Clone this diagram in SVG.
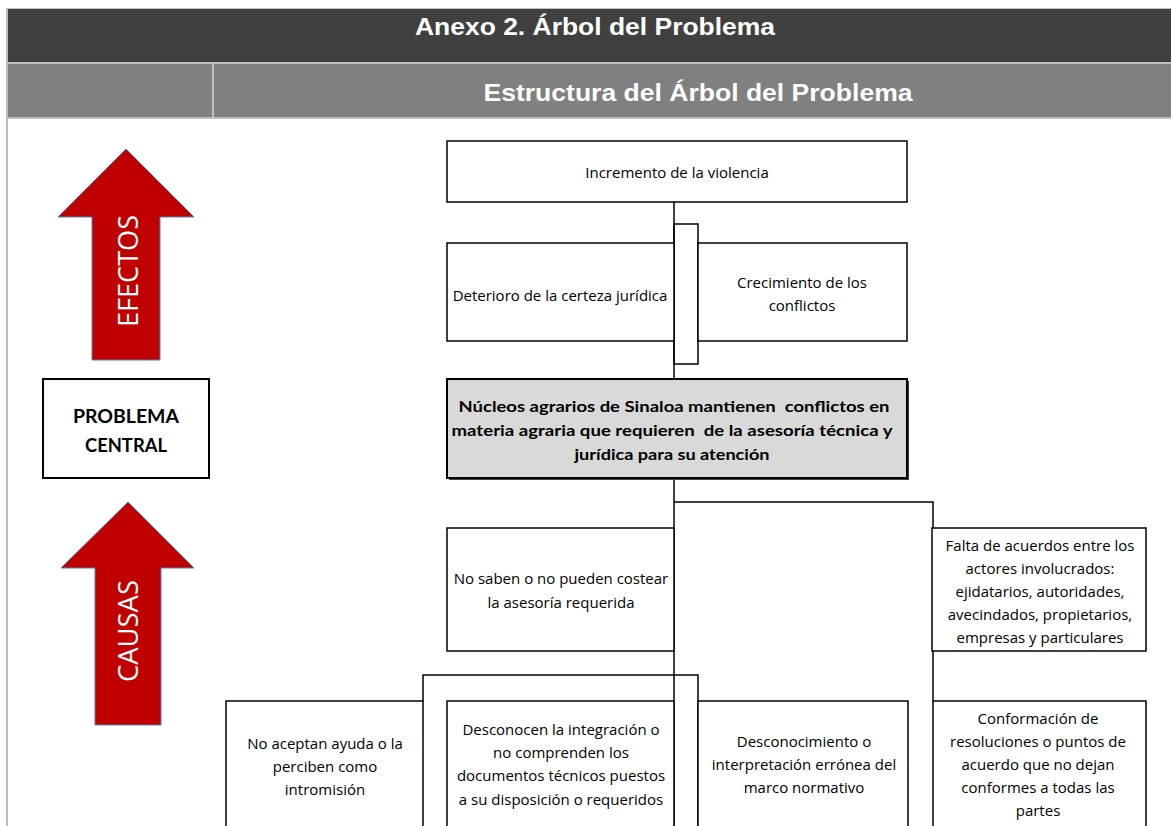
<svg xmlns="http://www.w3.org/2000/svg" width="1171" height="826" viewBox="0 0 1171 826">
<defs>
<style>
.box{fill:#fff;stroke:#000;stroke-width:1.5}
.t{font-family:"Open Sans",Lato,sans-serif;font-size:15px;fill:#000;text-anchor:middle}
.tb{font-family:Lato,"Open Sans",sans-serif;font-weight:bold;font-size:15.5px;fill:#000;text-anchor:middle;white-space:pre}
.hd{font-family:"Liberation Sans",Arial,sans-serif;font-weight:bold;font-size:24px;fill:#fff;text-anchor:middle}
.arrow{fill:#c00000;stroke:#4f81bd;stroke-width:1}
.at{font-family:"Open Sans",Lato,sans-serif;font-size:28px;fill:#fff;text-anchor:middle}
.conn{fill:none;stroke:#000;stroke-width:1.5}
</style>
</defs>
<rect width="1171" height="826" fill="#fff"/>
<g id="header">
<rect x="6" y="8" width="1166" height="111" fill="#bfbfbf"/>
<rect x="8" y="9" width="1163" height="53" fill="#404040"/>
<rect x="8" y="64" width="1163" height="53" fill="#808080"/>
<rect x="212" y="64" width="2" height="53" fill="#bfbfbf"/>
<rect x="6" y="117" width="2" height="709" fill="#bfbfbf"/>
<text class="hd" x="595" y="35" textLength="360" lengthAdjust="spacingAndGlyphs">Anexo 2. Árbol del Problema</text>
<text class="hd" x="698" y="101" textLength="429" lengthAdjust="spacingAndGlyphs">Estructura del Árbol del Problema</text>
</g>
<g id="arrow-efectos">
<polygon class="arrow" points="126,149 194,217 160,217 160,360 92,360 92,217 58,217"/>
<text class="at" transform="translate(138,271) rotate(-90)" x="0" y="0" textLength="112" lengthAdjust="spacingAndGlyphs">EFECTOS</text>
</g>
<g id="arrow-causas">
<polygon class="arrow" points="128,502 194,568 161,568 161,725 95,725 95,568 61,568"/>
<text class="at" transform="translate(138,631) rotate(-90)" x="0" y="0" textLength="102" lengthAdjust="spacingAndGlyphs">CAUSAS</text>
</g>
<g id="connectors">
<line class="conn" x1="674" y1="202" x2="674" y2="379"/>
<rect class="conn" x="674" y="224" width="24" height="140"/>
<line class="conn" x1="674" y1="479" x2="674" y2="826"/>
<path class="conn" d="M674,502 H933 V701"/>
<path class="conn" d="M423,701 V675 H698 V826"/>
</g>
<g id="problema-central-label">
<rect x="43" y="379" width="166" height="99" fill="#fff" stroke="#000" stroke-width="2"/>
<text class="tb" style="font-size:19px" x="126" y="423" textLength="106" lengthAdjust="spacingAndGlyphs">PROBLEMA</text>
<text class="tb" style="font-size:19px" x="126" y="452" textLength="82" lengthAdjust="spacingAndGlyphs">CENTRAL</text>
</g>
<g id="incremento">
<rect class="box" x="447" y="141" width="460" height="61"/>
<text class="t" x="677" y="178">Incremento de la violencia</text>
</g>
<g id="deterioro">
<rect class="box" x="447" y="243" width="227" height="98"/>
<text class="t" x="560" y="301">Deterioro de la certeza jurídica</text>
</g>
<g id="crecimiento">
<rect class="box" x="698" y="243" width="209" height="98"/>
<text class="t" x="802" y="288">Crecimiento de los</text>
<text class="t" x="802" y="311">conflictos</text>
</g>
<g id="problema-central">
<rect x="449" y="381" width="460" height="99" fill="#404040"/>
<rect x="447" y="379" width="460" height="99" fill="#d9d9d9" stroke="#000" stroke-width="2"/>
<text class="tb" x="674" y="412" textLength="431" lengthAdjust="spacingAndGlyphs">Núcleos agrarios de Sinaloa mantienen  conflictos en</text>
<text class="tb" x="672" y="436" textLength="441" lengthAdjust="spacingAndGlyphs">materia agraria que requieren  de la asesoría técnica y</text>
<text class="tb" x="672" y="460" textLength="195" lengthAdjust="spacingAndGlyphs">jurídica para su atención</text>
</g>
<g id="no-saben">
<rect class="box" x="447" y="528" width="227" height="123"/>
<text class="t" x="561" y="584">No saben o no pueden costear</text>
<text class="t" x="561" y="608">la asesoría requerida</text>
</g>
<g id="falta-acuerdos">
<rect class="box" x="932" y="528" width="214" height="123"/>
<text class="t" x="1040" y="551">Falta de acuerdos entre los</text>
<text class="t" x="1040" y="574">actores involucrados:</text>
<text class="t" x="1040" y="597">ejidatarios, autoridades,</text>
<text class="t" x="1040" y="620">avecindados, propietarios,</text>
<text class="t" x="1040" y="643">empresas y particulares</text>
</g>
<g id="no-aceptan">
<rect class="box" x="226" y="701" width="197" height="140"/>
<text class="t" x="325" y="749">No aceptan ayuda o la</text>
<text class="t" x="325" y="772">perciben como</text>
<text class="t" x="325" y="795">intromisión</text>
</g>
<g id="desconocen">
<rect class="box" x="447" y="701" width="227" height="140"/>
<text class="t" x="561" y="735">Desconocen la integración o</text>
<text class="t" x="561" y="758">no comprenden los</text>
<text class="t" x="561" y="781">documentos técnicos puestos</text>
<text class="t" x="561" y="805">a su disposición o requeridos</text>
</g>
<g id="desconocimiento">
<rect class="box" x="698" y="701" width="210" height="140"/>
<text class="t" x="804" y="747">Desconocimiento o</text>
<text class="t" x="804" y="770">interpretación errónea del</text>
<text class="t" x="804" y="793">marco normativo</text>
</g>
<g id="conformacion">
<rect class="box" x="933" y="701" width="213" height="140"/>
<text class="t" x="1038" y="724">Conformación de</text>
<text class="t" x="1038" y="747">resoluciones o puntos de</text>
<text class="t" x="1038" y="770">acuerdo que no dejan</text>
<text class="t" x="1038" y="793">conformes a todas las</text>
<text class="t" x="1038" y="816">partes</text>
</g>
</svg>
